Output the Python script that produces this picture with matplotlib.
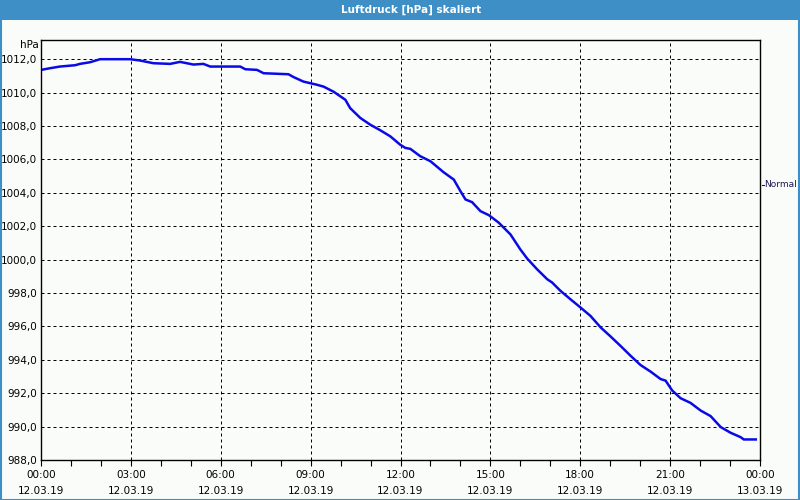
import matplotlib.pyplot as plt
from matplotlib.patches import Rectangle
from matplotlib.lines import Line2D

# Stunden ab 12.03.19 00:00
stunden = [0.0, 0.30, 0.63, 1.14, 1.30, 1.64, 1.97, 2.97, 3.31, 3.75, 4.31, 4.64,
           5.09, 5.42, 5.65, 6.65, 6.82, 7.21, 7.43, 8.26, 8.43, 8.76, 9.21, 9.43,
           9.77, 10.16, 10.32, 10.66, 10.99, 11.33, 11.66, 11.99, 12.16, 12.33,
           12.66, 13.00, 13.44, 13.78, 14.00, 14.17, 14.39, 14.67, 14.95, 15.28,
           15.67, 16.00, 16.23, 16.56, 16.90, 17.06, 17.34, 17.67, 18.01, 18.34,
           18.68, 19.01, 19.34, 19.68, 20.01, 20.35, 20.68, 20.85, 21.07, 21.35,
           21.68, 22.02, 22.35, 22.69, 23.02, 23.35, 23.46, 23.86]
druck = [1011.36, 1011.46, 1011.56, 1011.64, 1011.72, 1011.82, 1012.0, 1012.0,
         1011.92, 1011.76, 1011.72, 1011.84, 1011.68, 1011.72, 1011.56, 1011.56,
         1011.40, 1011.36, 1011.16, 1011.10, 1010.93, 1010.66, 1010.47, 1010.36,
         1010.05, 1009.57, 1009.07, 1008.48, 1008.08, 1007.74, 1007.38, 1006.88,
         1006.69, 1006.63, 1006.19, 1005.89, 1005.23, 1004.79, 1004.10, 1003.60,
         1003.44, 1002.90, 1002.66, 1002.21, 1001.51, 1000.61, 1000.06, 999.42,
         998.82, 998.63, 998.13, 997.63, 997.13, 996.63, 995.94, 995.40, 994.84,
         994.24, 993.69, 993.29, 992.85, 992.75, 992.16, 991.70, 991.42, 990.96,
         990.63, 989.97, 989.63, 989.37, 989.23, 989.23]

x_ticks = [0, 3, 6, 9, 12, 15, 18, 21, 24]
x_labels = ["00:00\n12.03.19", "03:00\n12.03.19", "06:00\n12.03.19",
            "09:00\n12.03.19", "12:00\n12.03.19", "15:00\n12.03.19",
            "18:00\n12.03.19", "21:00\n12.03.19", "00:00\n13.03.19"]
y_ticks = [988, 990, 992, 994, 996, 998, 1000, 1002, 1004, 1006, 1008, 1010, 1012]

bg = "#fafcfa"
blau = "#3d8fc6"
plt.rcParams["font.family"] = ["DejaVu Sans"]

fig = plt.figure(figsize=(8, 5), dpi=100, facecolor=bg)

# Titelleiste
fig.patches.append(Rectangle((0, 0.96), 1, 0.04, transform=fig.transFigure,
                             facecolor=blau, edgecolor="none", zorder=0))
fig.patches.append(Rectangle((0.001, 0.001), 0.998, 0.998, transform=fig.transFigure,
                             facecolor="none", edgecolor=blau, lw=1.5, zorder=5))
fig.text(0.514, 0.981, "Luftdruck [hPa] skaliert", color="white",
         fontsize=7.5, fontweight="bold", ha="center", va="center")

ax = fig.add_axes([0.05125, 0.08, 0.89875, 0.84], facecolor=bg)
ax.plot(stunden, druck, color="#0a0ae6", lw=1.8, solid_joinstyle="miter")

ax.set_xlim(0, 24)
ax.set_ylim(988, 1013.15)
ax.set_xticks(x_ticks)
ax.set_xticklabels(x_labels, fontsize=7.5, linespacing=1.75)
ax.set_xticks(range(25), minor=True)
ax.set_yticks(y_ticks)
ax.set_yticklabels([f"{v:.1f}".replace(".", ",") for v in y_ticks], fontsize=7.5)
ax.tick_params(axis="y", length=0, pad=3)
ax.tick_params(axis="x", which="both", length=4, width=0.8, direction="out", pad=3)
ax.grid(True, color="black", lw=0.72, linestyle=(0, (3, 3)))
for s in ax.spines.values():
    s.set_linewidth(1.0)

fig.text(0.048, 0.909, "hPa", fontsize=7.5, ha="right", va="center")

# Legende rechts
fig.lines.append(Line2D([0.952, 0.955], [0.631, 0.631], transform=fig.transFigure,
                        color="#0a0ae6", lw=0.8))
fig.text(0.955, 0.631, "Normal", fontsize=6.5, ha="left", va="center", color="#1a1a50")

fig.savefig("out.png", dpi=100, facecolor=bg)
